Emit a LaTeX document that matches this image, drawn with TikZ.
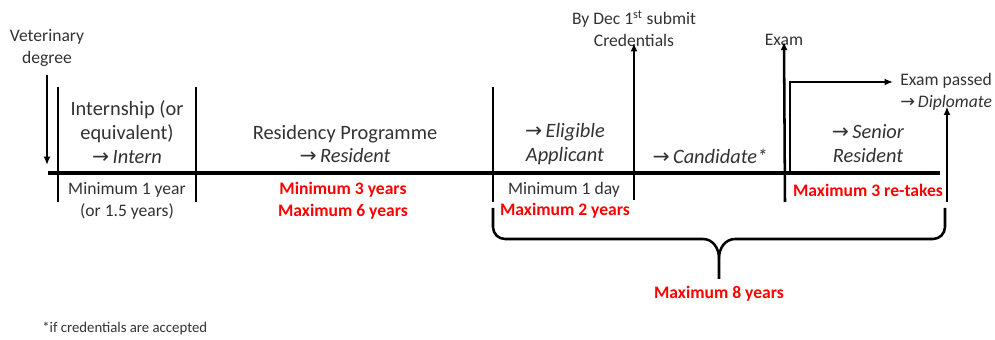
\documentclass[tikz,border=0pt]{standalone}
\usepackage{fontspec}
\setmainfont{Carlito}
\newfontfamily\arrowfont{DejaVu Sans}
\usetikzlibrary{arrows.meta}
\newcommand{\toarr}{{\arrowfont\char"2192}\,}
\definecolor{txtgray}{RGB}{50,50,50}
\definecolor{maxred}{RGB}{255,0,0}

\begin{document}
\begin{tikzpicture}[x=0.025cm,y=-0.025cm,
		lbl/.style={align=center,inner sep=0pt,text=txtgray,font=\fontsize{14.5}{17}\selectfont},
		note/.style={align=center,inner sep=0pt,text=txtgray,font=\fontsize{12.5}{15.6}\selectfont},
		rednote/.style={align=center,inner sep=0pt,text=maxred,font=\fontsize{12.5}{15.6}\selectfont\bfseries},
		bar/.style={line width=1.8pt},
		arr/.style={line width=1.8pt,-{Latex[length=6pt,width=5pt]}}]
		\useasboundingbox (0,0) rectangle (995,340);
		
		\coordinate(L) at (48,173);
		\coordinate(R) at (940,173);
		\coordinate(T1) at (58,87);
		\coordinate(B1) at (58,202);
		\coordinate(T2) at (196,87);
		\coordinate(B2) at (196,202);
		\coordinate(T3) at (493,87);
		\coordinate(B3) at (493,202);
		\coordinate(VE) at (47,165);
		\coordinate(CB) at (634,200);
		\coordinate(EB) at (785,202);
		\coordinate(PB) at (790,173);
		\coordinate(PT) at (893,82);
		\coordinate(DB) at (947,202);
		
		\node[note](vet) at (47,48) {Veterinary\\degree};
		\node[note](cred) at (634,29) {By Dec 1\textsuperscript{st} submit\\Credentials};
		\node[note](exam) at (784,40) {Exam};
		\node[note,align=left,anchor=west](passed) at (900,92) {Exam passed\\\toarr\textit{Diplomate}};
		
		\node[lbl](intern) at (127,132) {Internship (or\\equivalent)\\\toarr\textit{Intern}};
		\node[lbl](resid) at (345,144) {Residency Programme\\\toarr\textit{Resident}};
		\node[lbl](elig) at (565,144) {\toarr\textit{Eligible}\\\textit{Applicant}};
		\node[lbl](cand) at (710,156) {\toarr\textit{Candidate*}};
		\node[lbl](senior) at (868,144) {\toarr\textit{Senior}\\\textit{Resident}};
		
		\node[note](minyear) at (127,201) {Minimum 1 year\\(or 1.5 years)};
		\node[rednote](resyears) at (343,201) {Minimum 3 years\\Maximum 6 years};
		\node[note](minday) at (564,190) {Minimum 1 day};
		\node[rednote](maxtwo) at (565,211) {Maximum 2 years};
		\node[rednote](retakes) at (868,190) {Maximum 3 re-takes};
		\node[rednote](maxeight) at (719,294) {Maximum 8 years};
		\node[note,anchor=west,font=\fontsize{10.5}{13}\selectfont](foot) at (42,328) {*if credentials are accepted};
		
		% time line and stage limits
		\draw[line width=2.2pt] (L)--(R);
		\draw[bar] (T1)--(B1);
		\draw[bar] (T2)--(B2);
		\draw[bar] (T3)--(B3);
		
		% events
		\draw[arr] ([yshift=-6pt]vet.south)--(VE);
		\draw[arr] (CB)--([yshift=3pt]cred.south);
		\draw[arr] (EB)--([yshift=3pt]exam.north |- exam.south);
		\draw[arr] (PB)|-(PT);
		\draw[arr] (DB)--([yshift=3pt]passed.south -| DB);
		
		% brace
		\coordinate(BL) at (493,208);
		\coordinate(BR) at (945,208);
		\coordinate(BT) at (719,279);
		\draw[bar] (BL)--(493,227) to[out=-90,in=180] (505,239)--(703,239)
			to[out=0,in=90] (719,258)--(BT);
		\draw[bar] (BR)--(945,227) to[out=-90,in=0] (933,239)--(735,239)
			to[out=180,in=90] (719,258);
\end{tikzpicture}
\end{document}
